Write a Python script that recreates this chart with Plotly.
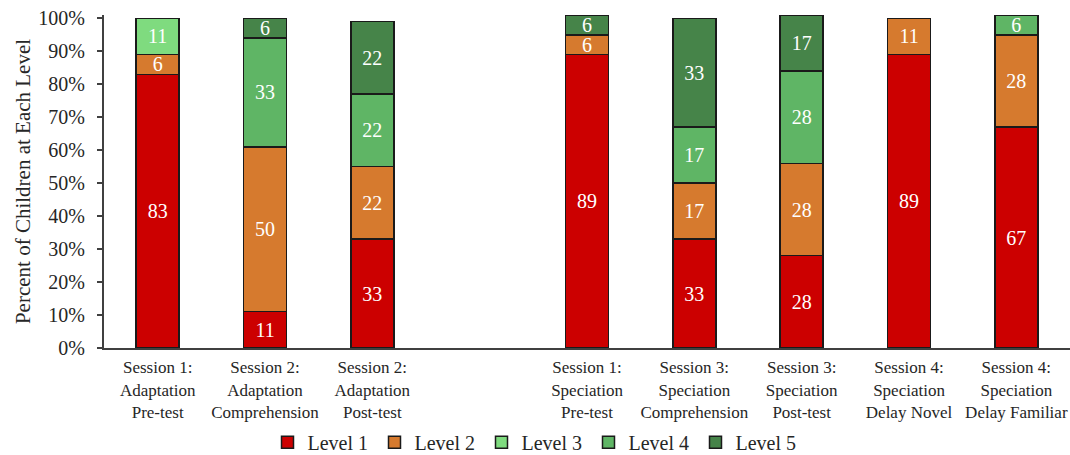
import plotly.graph_objects as go

# Session categories (slot 3 left empty to separate the two studies)
positions = [0, 1, 2, 4, 5, 6, 7, 8]
tick_labels = [
    "Session 1:<br>Adaptation<br>Pre-test",
    "Session 2:<br>Adaptation<br>Comprehension",
    "Session 2:<br>Adaptation<br>Post-test",
    "Session 1:<br>Speciation<br>Pre-test",
    "Session 3:<br>Speciation<br>Comprehension",
    "Session 3:<br>Speciation<br>Post-test",
    "Session 4:<br>Speciation<br>Delay Novel",
    "Session 4:<br>Speciation<br>Delay Familiar",
]

# Percent of children at each level, per session
level_1 = [83, 11, 33, 89, 33, 28, 89, 67]
level_2 = [6, 50, 22, 6, 17, 28, 11, 28]
level_3 = [11, None, None, None, None, None, None, None]
level_4 = [None, 33, 22, None, 17, 28, None, 6]
level_5 = [None, 6, 22, 6, 33, 17, None, None]

series = [
    ("Level 1", level_1, "#CC0000"),
    ("Level 2", level_2, "#D67A2E"),
    ("Level 3", level_3, "#7FDB7F"),
    ("Level 4", level_4, "#5FB565"),
    ("Level 5", level_5, "#468449"),
]

FONT = "Liberation Serif"
INK = "#262626"

fig = go.Figure()
for name, vals, color in series:
    fig.add_trace(go.Bar(
        name=name,
        x=positions,
        y=vals,
        width=0.4,
        marker=dict(color=color, line=dict(color="#1a1a1a", width=1.5)),
        text=[None if v is None else str(v) for v in vals],
        textposition="inside",
        insidetextanchor="middle",
        textangle=0,
        textfont=dict(family=FONT, size=20, color="white"),
        hoverinfo="skip",
    ))

fig.update_layout(
    barmode="stack",
    width=1070,
    height=455,
    margin=dict(l=104, r=0, t=15, b=107),
    paper_bgcolor="white",
    plot_bgcolor="white",
    font=dict(family=FONT, color=INK),
    uniformtext=dict(minsize=20, mode="show"),
    showlegend=True,
    legend=dict(
        orientation="h",
        xref="container",
        yref="container",
        x=0.5,
        xanchor="center",
        y=0.028,
        yanchor="middle",
        font=dict(family=FONT, size=20, color=INK),
        entrywidth=62,
        itemclick=False,
        traceorder="normal",
    ),
)

fig.update_xaxes(
    range=[-0.5, 8.5],
    tickmode="array",
    tickvals=positions,
    ticktext=tick_labels,
    showline=True,
    linecolor="#404040",
    linewidth=2,
    ticks="",
    ticklabelstandoff=3,
    showgrid=False,
    zeroline=False,
    tickfont=dict(family=FONT, size=17, color=INK),
)

fig.update_yaxes(
    range=[0, 101],
    tickmode="linear",
    tick0=0,
    dtick=10,
    ticksuffix="%",
    showline=True,
    linecolor="#404040",
    linewidth=2,
    ticks="outside",
    ticklen=5,
    tickwidth=1.5,
    tickcolor="#404040",
    ticklabelstandoff=8,
    showgrid=False,
    zeroline=False,
    tickfont=dict(family=FONT, size=20, color=INK),
    title=dict(text="Percent of Children at Each Level",
               font=dict(family=FONT, size=21, color=INK), standoff=2),
)

fig.write_html("out.html")
